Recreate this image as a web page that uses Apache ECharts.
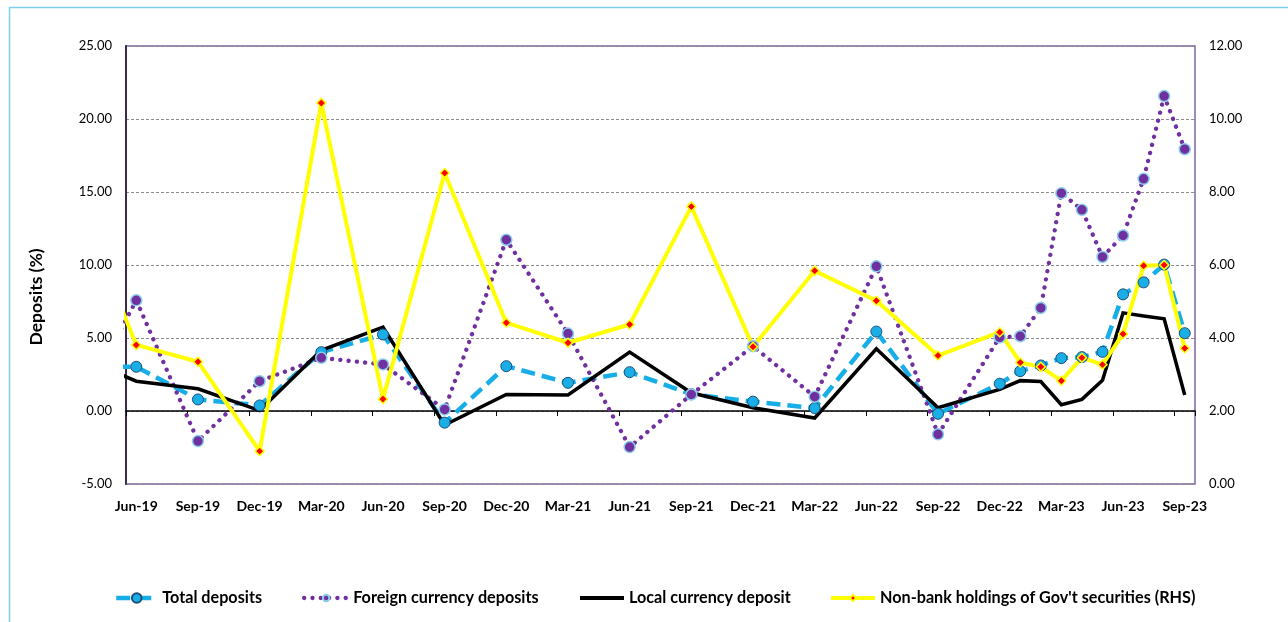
<!DOCTYPE html>
<html>
<head>
<meta charset="utf-8">
<script src="https://cdn.jsdelivr.net/npm/echarts@6/dist/echarts.min.js"></script>
<style>
html,body{margin:0;padding:0;background:#fff;}
#c{width:1288px;height:622px;}
</style>
</head>
<body>
<div id="c"></div>
<script>
// Monthly category axis (first point Mar-19 lies just outside the visible range)
const months = [
  'Mar-19','Apr-19','May-19','Jun-19','Jul-19','Aug-19','Sep-19','Oct-19','Nov-19','Dec-19',
  'Jan-20','Feb-20','Mar-20','Apr-20','May-20','Jun-20','Jul-20','Aug-20','Sep-20','Oct-20','Nov-20','Dec-20',
  'Jan-21','Feb-21','Mar-21','Apr-21','May-21','Jun-21','Jul-21','Aug-21','Sep-21','Oct-21','Nov-21','Dec-21',
  'Jan-22','Feb-22','Mar-22','Apr-22','May-22','Jun-22','Jul-22','Aug-22','Sep-22','Oct-22','Nov-22','Dec-22',
  'Jan-23','Feb-23','Mar-23','Apr-23','May-23','Jun-23','Jul-23','Aug-23','Sep-23'
];
const firstVisibleMonth = 'Jun-19';

// Observation dates (quarterly to Dec-22, monthly afterwards)
const obsDates = [
  'Mar-19','Jun-19','Sep-19','Dec-19','Mar-20','Jun-20','Sep-20','Dec-20','Mar-21','Jun-21',
  'Sep-21','Dec-21','Mar-22','Jun-22','Sep-22','Dec-22','Jan-23','Feb-23','Mar-23','Apr-23',
  'May-23','Jun-23','Jul-23','Aug-23','Sep-23'
];
const totalDeposits = [
  3.00, 3.03, 0.79, 0.38, 4.03, 5.24, -0.80, 3.07, 1.93, 2.66,
  1.15, 0.64, 0.20, 5.44, -0.19, 1.87, 2.73, 3.12, 3.62, 3.69,
  4.05, 7.99, 8.81, 10.03, 5.33
];
const foreignDeposits = [
  -0.40, 7.58, -2.06, 2.04, 3.64, 3.19, 0.11, 11.73, 5.30, -2.47,
  1.13, 4.44, 0.98, 9.91, -1.60, 5.05, 5.12, 7.06, 14.92, 13.78,
  10.55, 12.02, 15.90, 21.57, 17.93
];
const localDeposits = [
  3.84, 2.04, 1.52, 0.03, 4.16, 5.74, -0.96, 1.13, 1.10, 4.04,
  1.25, 0.22, -0.48, 4.26, 0.22, 1.48, 2.08, 2.02, 0.43, 0.80,
  2.11, 6.72, 6.50, 6.31, 1.10
];
const nonBankGovSec = [
  8.00, 3.81, 3.35, 0.90, 10.44, 2.33, 8.52, 4.42, 3.87, 4.37,
  7.60, 3.76, 5.84, 5.02, 3.52, 4.16, 3.33, 3.21, 2.83, 3.46,
  3.27, 4.11, 5.98, 6.00, 3.72
];

const seriesNames = ['Total deposits','Foreign currency deposits','Local currency deposit',"Non-bank holdings of Gov't securities (RHS)"];
const leftTicks = {min: -5, max: 25, step: 5};
const rightTicks = {min: 0, max: 12, step: 2};

const FONT = 'Lato';
const firstIdx = months.indexOf(firstVisibleMonth);
const pairs = arr => obsDates.map((d, i) => {
  const item = {value: [d, arr[i]]};
  if (months.indexOf(d) < firstIdx) item.symbolSize = 0;
  return item;
});

const chart = echarts.init(document.getElementById('c'), null, {renderer: 'canvas'});

const legendText = {fontFamily: FONT, fontWeight: 'bold', fontSize: 16.2, color: '#000'};
function mkLegend(name, left, w, h, extra) {
  return Object.assign({
    data: [name], left: left, top: 590, itemWidth: w, itemHeight: h,
    selectedMode: false, padding: 0, textStyle: legendText
  }, extra || {});
}

const option = {
  animation: false,
  backgroundColor: '#fff',
  grid: {
    left: 126, right: 93, top: 46, bottom: 138,
    show: true, borderColor: '#8064a2', borderWidth: 1.5,
    containLabel: false, outerBoundsMode: 'none'
  },
  graphic: [
    {type: 'rect', left: 7, top: 5, shape: {x: 0, y: 0, width: 1400, height: 800},
     style: {fill: 'none', stroke: '#7ccff0', lineWidth: 1.5}, z: -10, silent: true},
    {type: 'text', x: 36, y: 297, rotation: Math.PI / 2,
     style: {text: 'Deposits (%)', align: 'center', verticalAlign: 'middle',
             font: 'bold 17.5px ' + FONT, fill: '#000'}}
  ],
  legend: [
    mkLegend(seriesNames[0], 114, 41, 12, {lineStyle: {width: 4.5}}),
    mkLegend(seriesNames[1], 302, 44, 8, {lineStyle: {width: 4.3}}),
    mkLegend(seriesNames[2], 580, 44, 4, {icon: 'rect', itemStyle: {color: '#000'}}),
    mkLegend(seriesNames[3], 829, 44, 8, {lineStyle: {width: 4}})
  ],
  xAxis: [
    {
      type: 'category', data: months, min: firstIdx, boundaryGap: true, position: 'bottom',
      axisLine: {show: false, onZero: false},
      axisTick: {show: false},
      splitLine: {show: false},
      axisLabel: {interval: 2, fontFamily: FONT, fontWeight: 'bold', fontSize: 14, color: '#000', margin: 15}
    },
    {
      type: 'category', data: months, min: firstIdx, boundaryGap: true, position: 'bottom',
      axisLine: {show: true, onZero: true, onZeroAxisIndex: 0, lineStyle: {color: '#000', width: 1.5}},
      axisTick: {show: true, interval: 2, alignWithLabel: false, inside: false, length: 5, lineStyle: {color: '#000', width: 1}},
      axisLabel: {show: false},
      splitLine: {show: false}
    }
  ],
  yAxis: [
    {
      type: 'value', position: 'left', min: leftTicks.min, max: leftTicks.max, interval: leftTicks.step,
      axisLine: {show: true, onZero: false, lineStyle: {color: '#3b2a50', width: 2}},
      axisTick: {show: false},
      axisLabel: {formatter: v => v.toFixed(2), fontFamily: FONT, fontSize: 13, color: '#000', margin: 14},
      splitLine: {show: true, lineStyle: {color: '#8c8c8c', type: [3, 2], width: 1}}
    },
    {
      type: 'value', position: 'right', min: rightTicks.min, max: rightTicks.max, interval: rightTicks.step,
      axisLine: {show: false, onZero: false},
      axisTick: {show: false},
      axisLabel: {formatter: v => v.toFixed(2), fontFamily: FONT, fontSize: 13, color: '#000', margin: 14},
      splitLine: {show: false}
    }
  ],
  series: [
    {
      name: seriesNames[0], type: 'line', xAxisIndex: 0, yAxisIndex: 0, data: pairs(totalDeposits),
      clip: true, showSymbol: true, showAllSymbol: true, symbol: 'circle', symbolSize: 11,
      lineStyle: {color: '#17aee8', width: 4.5, type: [14, 7]},
      itemStyle: {color: '#1aaee6', borderColor: '#1f4e79', borderWidth: 1}
    },
    {
      name: seriesNames[1], type: 'line', xAxisIndex: 0, yAxisIndex: 0, data: pairs(foreignDeposits),
      clip: true, showSymbol: true, showAllSymbol: true, symbol: 'circle', symbolSize: 11,
      lineStyle: {color: '#7030a0', width: 4.3, type: [0.1, 8.2], cap: 'round'},
      itemStyle: {color: '#7030a0', borderColor: '#8ad0ea', borderWidth: 1.5}
    },
    {
      name: seriesNames[2], type: 'line', xAxisIndex: 0, yAxisIndex: 0, data: pairs(localDeposits),
      clip: true, symbol: 'none',
      lineStyle: {color: '#000', width: 3.5, join: 'miter'},
      itemStyle: {color: '#000'}
    },
    {
      name: seriesNames[3], type: 'line', xAxisIndex: 0, yAxisIndex: 1, data: pairs(nonBankGovSec),
      clip: true, showSymbol: true, showAllSymbol: true, symbol: 'diamond', symbolSize: 9,
      lineStyle: {color: '#ffff00', width: 4},
      itemStyle: {color: '#ff0000', borderColor: '#ffff00', borderWidth: 1.5}
    }
  ]
};
chart.setOption(option);
</script>
</body>
</html>
